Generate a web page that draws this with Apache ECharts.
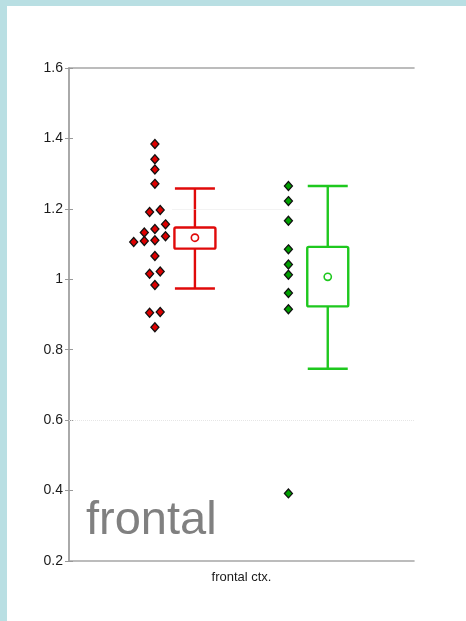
<!DOCTYPE html>
<html><head><meta charset="utf-8">
<script src="https://cdn.jsdelivr.net/npm/echarts@6/dist/echarts.min.js"></script>
<style>html,body{margin:0;padding:0;background:#fff}#c{width:466px;height:621px}</style>
</head><body><div id="c"></div>
<script>
// ---- data ----
const categoryLabel = 'frontal ctx.';
const yTicks = [0.2, 0.4, 0.6, 0.8, 1, 1.2, 1.4, 1.6];
// group positions on a 0..1 horizontal scale
const groupNames = ['red group', 'green group'];
const pointColumn = [0.249, 0.636];
const boxCenter = [0.365, 0.750];
// individual values
const redValues = [1.384, 1.341, 1.312, 1.271, 1.191, 1.197, 1.156, 1.133, 1.143, 1.106,
                   1.109, 1.111, 1.122, 1.066, 1.016, 1.022, 0.984, 0.905, 0.907, 0.864];
const redJitter = [0, 0, 0, 0, -1, 1, 2, -2, 0, -4, -2, 0, 2, 0, -1, 1, 0, -1, 1, 0];
const greenValues = [1.265, 1.222, 1.166, 1.085, 1.042, 1.013, 0.961, 0.915, 0.392];
const greenJitter = [0, 0, 0, 0, 0, 0, 0, 0, 0];
// box summaries: [whiskerLow, q1, q3, whiskerHigh, mean]
const redBox = [0.974, 1.087, 1.147, 1.258, 1.118];
const greenBox = [0.746, 0.923, 1.092, 1.265, 1.007];

// ---- styles ----
const JSTEP = 0.01536;
const colors = { red: { line: '#e00a0a', fill: '#dd0000' }, green: { line: '#1ec81e', fill: '#00a000' } };

function pts(vals, jit, col) { return vals.map((v, i) => [col + jit[i] * JSTEP, v]); }

function boxRender(color) {
  return function (params, api) {
    const xc = api.value(0);
    const lo = api.coord([xc, api.value(1)]);
    const q1 = api.coord([xc, api.value(2)]);
    const q3 = api.coord([xc, api.value(3)]);
    const hi = api.coord([xc, api.value(4)]);
    const mn = api.coord([xc, api.value(5)]);
    const hw = 20.5, cw = 20;
    const ls = { stroke: color, lineWidth: 2.4, fill: null };
    return {
      type: 'group', children: [
        { type: 'line', shape: { x1: lo[0], y1: lo[1], x2: q1[0], y2: q1[1] }, style: ls },
        { type: 'line', shape: { x1: hi[0], y1: hi[1], x2: q3[0], y2: q3[1] }, style: ls },
        { type: 'line', shape: { x1: lo[0] - cw, y1: lo[1], x2: lo[0] + cw, y2: lo[1] }, style: ls },
        { type: 'line', shape: { x1: hi[0] - cw, y1: hi[1], x2: hi[0] + cw, y2: hi[1] }, style: ls },
        { type: 'rect', shape: { x: q3[0] - hw, y: q3[1], width: 2 * hw, height: q1[1] - q3[1], r: 1.5 }, style: { stroke: color, lineWidth: 2.4, fill: '#fff' } },
        { type: 'circle', shape: { cx: mn[0], cy: mn[1], r: 3.6 }, style: { stroke: color, lineWidth: 1.6, fill: '#fff' } }
      ]
    };
  };
}

const chart = echarts.init(document.getElementById('c'), null, { renderer: 'canvas' });
const axisLine = { show: true, lineStyle: { color: '#a6a6a6', width: 1.6 } };
chart.setOption({
  animation: false,
  backgroundColor: '#fff',
  grid: { left: 69, top: 68, right: 52, bottom: 60 },
  xAxis: [
    { type: 'value', min: 0, max: 1, interval: 0.5, position: 'bottom', axisLine: axisLine, axisTick: { show: false }, splitLine: { show: false },
      axisLabel: { formatter: v => (v === 0.5 ? categoryLabel : ''), color: '#1a1a1a', fontFamily: 'Liberation Sans', fontSize: 13, margin: 10 } },
    { type: 'value', min: 0, max: 1, position: 'top', axisLine: axisLine, axisTick: { show: false }, axisLabel: { show: false }, splitLine: { show: false } }
  ],
  yAxis: [
    { type: 'value', min: 0.2, max: 1.6, interval: 0.2, position: 'left', axisLine: axisLine,
      axisTick: { show: true, inside: true, length: 4, lineStyle: { color: '#999', width: 1 } }, splitLine: { show: false },
      axisLabel: { formatter: v => String(+v.toFixed(1)), color: '#1a1a1a', fontFamily: 'Liberation Sans', fontSize: 14, margin: 6 } },
    { type: 'value', min: 0.2, max: 1.6, interval: 0.2, position: 'right', axisLine: axisLine,
      axisTick: { show: true, inside: true, length: 4, lineStyle: { color: '#999', width: 1 } }, splitLine: { show: false }, axisLabel: { show: false } }
  ],
  graphic: [
    { type: 'rect', left: 0, top: 0, shape: { width: 466, height: 6 }, style: { fill: '#b9dfe3' }, z: 100 },
    { type: 'rect', left: 0, top: 0, shape: { width: 7, height: 621 }, style: { fill: '#b9dfe3' }, z: 100 },
    { type: 'text', left: 86, top: 498, style: { text: 'frontal', fill: '#808080', font: '47px "Liberation Sans"' }, z: 50 }
  ],
  series: [
    { type: 'line', data: [], silent: true,
      markLine: { symbol: 'none', silent: true, label: { show: false },
        lineStyle: { color: '#e6e6e6', type: 'dotted', width: 1 },
        data: [ { yAxis: 0.6 }, [ { coord: [0.3, 1.2] }, { coord: [0.67, 1.2] } ] ] } },
    { name: groupNames[0], type: 'custom', renderItem: boxRender(colors.red.line), data: [[boxCenter[0], ...redBox.slice(0, 4), redBox[4]]], z: 3 },
    { name: groupNames[1], type: 'custom', renderItem: boxRender(colors.green.line), data: [[boxCenter[1], ...greenBox.slice(0, 4), greenBox[4]]], z: 3 },
    { name: groupNames[0], type: 'scatter', symbol: 'diamond', symbolSize: [8, 9], data: pts(redValues, redJitter, pointColumn[0]),
      itemStyle: { color: colors.red.fill, borderColor: '#111', borderWidth: 1.3, opacity: 1 }, z: 5 },
    { name: groupNames[1], type: 'scatter', symbol: 'diamond', symbolSize: [8, 9], data: pts(greenValues, greenJitter, pointColumn[1]),
      itemStyle: { color: colors.green.fill, borderColor: '#111', borderWidth: 1.3, opacity: 1 }, z: 5 }
  ]
});
</script></body></html>
